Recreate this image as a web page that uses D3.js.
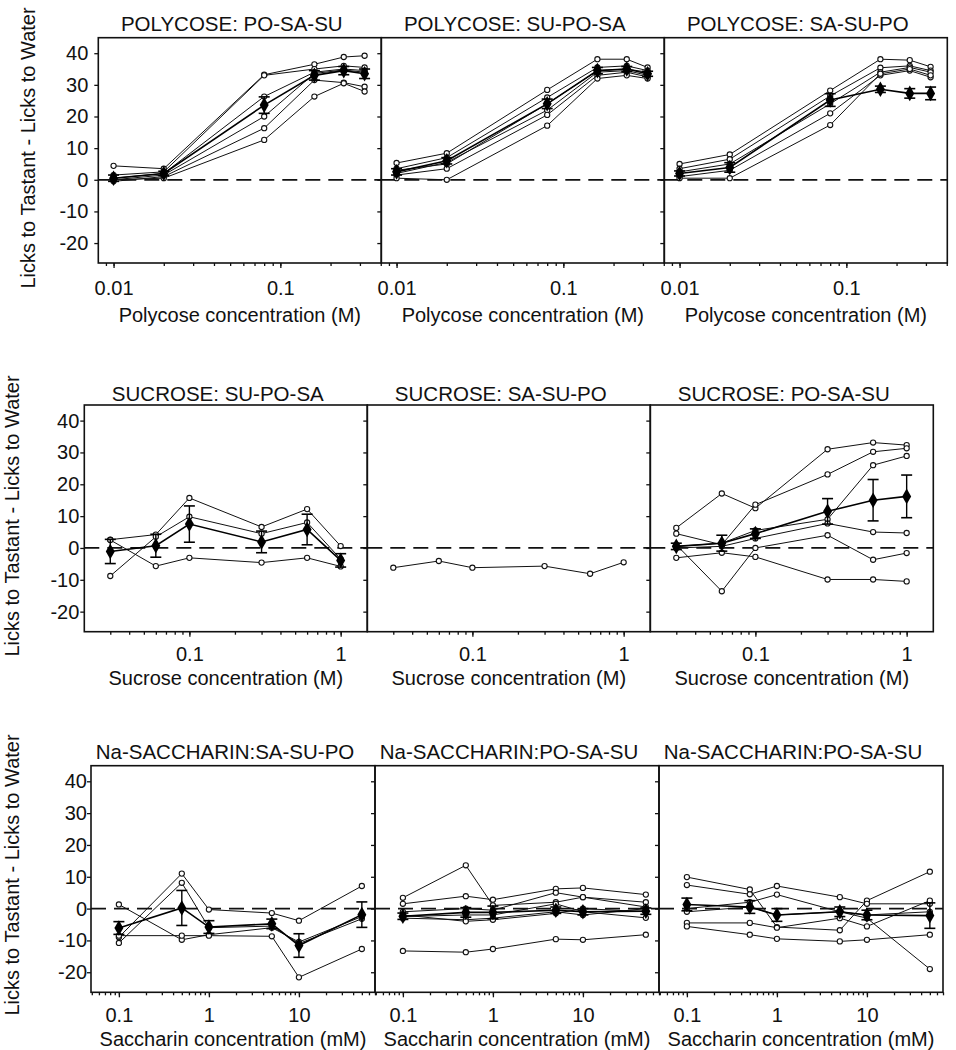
<!DOCTYPE html>
<html><head><meta charset="utf-8">
<script src="https://cdn.jsdelivr.net/npm/d3@7"></script>
<style>body{margin:0;background:#fff} text{font-family:"Liberation Sans",Arial,sans-serif;fill:#111}</style>
</head><body><svg id="c" width="956" height="1050"></svg>
<script>
// ---------- DATA ----------
const polycoseConc = [0.01, 0.02, 0.08, 0.16, 0.24, 0.32];
const sucroseConc = [0.03, 0.06, 0.1, 0.3, 0.6, 1];
const saccharinConc = [0.1, 0.5, 1, 5, 10, 50];

const yTicks = [-20, -10, 0, 10, 20, 30, 40];
const polycoseTickLabels = [0.01, 0.1];
const sucroseTickLabels = [0.1, 1];
const saccharinTickLabels = [0.1, 1, 10];

const panelTitles = [
  "POLYCOSE: PO-SA-SU", "POLYCOSE: SU-PO-SA", "POLYCOSE: SA-SU-PO",
  "SUCROSE: SU-PO-SA", "SUCROSE: SA-SU-PO", "SUCROSE: PO-SA-SU",
  "Na-SACCHARIN:SA-SU-PO", "Na-SACCHARIN:PO-SA-SU", "Na-SACCHARIN:PO-SA-SU"
];
const xTitles = ["Polycose concentration (M)", "Sucrose concentration (M)", "Saccharin concentration (mM)"];
const yTitle = "Licks to Tastant - Licks to Water";

// Panel 1: POLYCOSE PO-SA-SU
const p1Rats = [
  [4.4, 3.5, 33.2, 36.5, 38.8, 39.2],
  [1.5, 2.5, 33.0, 35.0, 36.0, 35.5],
  [0.5, 2.0, 26.3, 34.0, 35.0, 34.5],
  [0.0, 1.5, 20.0, 33.6, 34.7, 34.0],
  [-0.5, 1.0, 16.3, 31.5, 30.7, 29.4],
  [0.0, 0.5, 12.6, 26.3, 30.5, 27.9]
];
const p1Mean = [0.5, 2.0, 23.6, 33.0, 34.5, 33.5];
const p1Sem = [1.0, 0.7, 2.6, 1.5, 1.3, 1.5];

// Panel 2: POLYCOSE SU-PO-SA
const p2Rats = [
  [5.3, 8.4, 28.4, 38.1, 38.1, 35.5],
  [3.5, 7.0, 26.0, 35.5, 36.0, 34.5],
  [3.0, 5.0, 24.0, 34.5, 35.0, 34.0],
  [2.0, 5.5, 22.0, 34.0, 34.5, 33.0],
  [1.5, 3.5, 20.5, 33.0, 34.0, 32.5],
  [0.5, 0.0, 17.1, 32.0, 33.0, 32.0]
];
const p2Mean = [2.5, 6.0, 24.0, 34.5, 35.0, 33.5];
const p2Sem = [1.0, 1.0, 1.5, 1.0, 0.8, 0.8];

// Panel 3: POLYCOSE SA-SU-PO
const p3Rats = [
  [5.0, 8.0, 28.2, 38.1, 37.8, 35.7],
  [3.5, 6.5, 26.5, 35.4, 36.0, 34.5],
  [2.5, 5.0, 24.0, 34.0, 35.5, 34.0],
  [1.0, 3.0, 21.0, 33.0, 34.5, 32.4],
  [0.5, 0.5, 17.3, 33.5, 35.0, 33.0]
];
const p3Mean = [2.0, 3.9, 25.2, 28.6, 27.3, 27.3];
const p3Sem = [0.8, 1.5, 2.0, 1.0, 1.5, 2.0];

// Panel 4: SUCROSE SU-PO-SA
const p4Rats = [
  [2.6, 4.2, 15.7, 6.6, 12.2, 0.6],
  [-8.8, 3.5, 9.8, 4.5, 8.0, -3.5],
  [2.5, -5.7, -3.1, -4.6, -3.1, -5.8]
];
const p4Mean = [-1.1, 0.7, 7.5, 1.9, 5.8, -3.9];
const p4Sem = [3.8, 3.6, 5.7, 3.4, 4.8, 2.1];

// Panel 5: SUCROSE SA-SU-PO
const p5Rats = [
  [-6.2, -4.1, -6.2, -5.7, -8.1, -4.5]
];
const p5Mean = [];
const p5Sem = [];

// Panel 6: SUCROSE PO-SA-SU
const p6Rats = [
  [6.3, 17.1, 12.5, 31.0, 33.1, 32.3],
  [4.5, 1.0, 13.6, 23.1, 30.2, 31.3],
  [0.5, 1.5, 5.5, 9.0, 26.0, 28.9],
  [0.0, 0.5, 3.0, 7.7, 5.0, 4.7],
  [-3.1, -1.5, -2.8, -9.9, -9.9, -10.5],
  [1.0, -13.6, 0.0, 4.0, -3.7, -1.6]
];
const p6Mean = [0.5, 1.5, 4.5, 11.5, 15.0, 16.2];
const p6Sem = [1.0, 2.5, 1.5, 4.0, 6.5, 6.7];

// Panel 7: Na-SACCHARIN SA-SU-PO
const p7Rats = [
  [-9.0, 11.0, -0.3, -1.4, -3.8, 7.1],
  [-10.8, 8.1, -6.0, -5.5, -11.0, -3.2],
  [1.3, -9.8, -8.2, -6.0, -10.5, -2.5],
  [-8.5, -8.5, -8.5, -8.7, -21.6, -12.7]
];
const p7Mean = [-6.1, 0.2, -5.8, -4.8, -11.6, -1.9];
const p7Sem = [2.0, 5.5, 2.0, 1.5, 3.7, 4.0];

// Panel 8: Na-SACCHARIN PO-SA-SU
const p8Rats = [
  [3.4, 13.6, 1.0, 2.0, 3.6, 2.0],
  [1.5, 3.9, 2.8, 6.2, 6.5, 4.4],
  [-1.0, 0.0, -0.5, 5.0, 3.6, 0.5],
  [-2.5, -2.0, -2.0, 1.5, -1.0, -2.9],
  [-3.0, -3.5, -3.0, -1.0, -2.0, 0.0],
  [-2.0, -4.0, -3.5, -1.5, 0.0, -1.0],
  [-13.3, -13.7, -12.7, -9.6, -9.8, -8.2]
];
const p8Mean = [-2.4, -1.2, -1.2, -0.5, -1.0, -0.8];
const p8Sem = [1.0, 1.5, 2.0, 1.0, 1.0, 1.0];

// Panel 9: Na-SACCHARIN PO-SA-SU
const p9Rats = [
  [9.9, 6.0, -5.8, -6.8, 2.5, 11.6],
  [7.4, 4.5, 7.1, 3.6, 1.5, 1.5],
  [0.0, 2.0, 4.4, -1.0, -3.0, -19.0],
  [-1.0, 0.5, -2.0, -1.0, -2.0, -1.0],
  [-4.5, -4.5, -6.0, -3.0, -5.6, 2.5],
  [-5.6, -8.2, -9.5, -10.3, -9.8, -8.2]
];
const p9Mean = [1.3, 0.5, -2.0, -1.0, -2.0, -2.2];
const p9Sem = [2.0, 2.0, 2.0, 1.5, 1.5, 4.0];

// ---------- BUILD ----------
const rowConc = [polycoseConc, sucroseConc, saccharinConc];
const rowTickLabels = [polycoseTickLabels, sucroseTickLabels, saccharinTickLabels];
const panels = [
  [p1Rats, p1Mean, p1Sem], [p2Rats, p2Mean, p2Sem], [p3Rats, p3Mean, p3Sem],
  [p4Rats, p4Mean, p4Sem], [p5Rats, p5Mean, p5Sem], [p6Rats, p6Mean, p6Sem],
  [p7Rats, p7Mean, p7Sem], [p8Rats, p8Mean, p8Sem], [p9Rats, p9Mean, p9Sem]
].map((d, i) => ({rats: d[0], mean: d[1], sem: d[2], title: panelTitles[i]}));

const yDomain = [-26.3, 44.9];
const layout = [
  {left: 98.3, w: 283, top: 37.7, bottom: 263, dom: [0.0081, 0.403], titleY: 30.5, xpad: 13, xTitleY: 322, yPad: 6, yTitleX: 35, yTitleY: 148},
  {left: 84.3, w: 283, top: 405, bottom: 631.7, dom: [0.0202, 1.5], titleY: 400.5, xpad: 10.5, xTitleY: 685, yPad: 1, yTitleX: 19, yTitleY: 516},
  {left: 91, w: 284, top: 765.7, bottom: 992.3, dom: [0.049, 70], titleY: 759, xpad: 11, xTitleY: 1046, yPad: 0, yTitleX: 19, yTitleY: 875}
];

const svg = d3.select("#c");
svg.append("rect").attr("width", 956).attr("height", 1050).attr("fill", "#fff");

panels.forEach((p, i) => {
  const row = Math.floor(i / 3), col = i % 3;
  const L = layout[row];
  const x0 = L.left + col * L.w;
  const conc = rowConc[row];
  const x = d3.scaleLog().domain(L.dom).range([x0, x0 + L.w]);
  const y = d3.scaleLinear().domain(yDomain).range([L.bottom, L.top]);
  const g = svg.append("g");

  // zero dashed line
  g.append("line").attr("x1", x0).attr("x2", x0 + L.w).attr("y1", y(0)).attr("y2", y(0))
    .attr("stroke", "#111").attr("stroke-width", 1.8).attr("stroke-dasharray", "15,8");

  // x minor ticks
  const minorAx = g.append("g").attr("transform", `translate(0,${L.bottom})`)
    .call(d3.axisBottom(x).tickValues(x.ticks()).tickSize(3).tickFormat(""));
  minorAx.select(".domain").remove();
  // x major ticks + labels
  const majAx = g.append("g").attr("transform", `translate(0,${L.bottom})`)
    .call(d3.axisBottom(x).tickValues(rowTickLabels[row]).tickSize(5).tickPadding(L.xpad).tickFormat(d => String(d)));
  majAx.select(".domain").remove();
  majAx.selectAll("text").attr("font-size", 20).attr("font-family", "Liberation Sans, Arial, sans-serif").attr("fill", "#111");
  g.selectAll(".tick line").attr("stroke", "#111").attr("stroke-width", 1.3);

  // y axis
  const yAx = g.append("g").attr("transform", `translate(${x0},0)`)
    .call(d3.axisLeft(y).tickValues(yTicks).tickSize(4).tickPadding(L.yPad)
      .tickFormat(col === 0 ? (d => String(d)) : ""));
  yAx.select(".domain").remove();
  yAx.selectAll("text").attr("font-size", 20).attr("font-family", "Liberation Sans, Arial, sans-serif").attr("fill", "#111");
  yAx.selectAll(".tick line").attr("stroke", "#111").attr("stroke-width", 1.3);

  // frame
  g.append("rect").attr("x", x0).attr("y", L.top).attr("width", L.w).attr("height", L.bottom - L.top)
    .attr("fill", "none").attr("stroke", "#111").attr("stroke-width", 1.6);

  const line = d3.line().x((d, k) => x(conc[k])).y(d => y(d));

  // individual animals
  p.rats.forEach(r => {
    g.append("path").datum(r).attr("d", line).attr("fill", "none").attr("stroke", "#111").attr("stroke-width", 1);
    g.selectAll(null).data(r).enter().append("circle")
      .attr("cx", (d, k) => x(conc[k])).attr("cy", d => y(d)).attr("r", 2.6)
      .attr("fill", "#fff").attr("stroke", "#111").attr("stroke-width", 1.1);
  });

  // group mean with error bars
  if (p.mean.length) {
    g.append("path").datum(p.mean).attr("d", line).attr("fill", "none").attr("stroke", "#000").attr("stroke-width", 1.6);
    p.mean.forEach((m, k) => {
      const cx = x(conc[k]);
      const e = p.sem[k];
      g.append("line").attr("x1", cx).attr("x2", cx).attr("y1", y(m - e)).attr("y2", y(m + e))
        .attr("stroke", "#000").attr("stroke-width", 1.4);
      [m - e, m + e].forEach(v => {
        g.append("line").attr("x1", cx - 5.5).attr("x2", cx + 5.5).attr("y1", y(v)).attr("y2", y(v))
          .attr("stroke", "#000").attr("stroke-width", 1.6);
      });
    });
    g.selectAll(null).data(p.mean).enter().append("path")
      .attr("d", d3.symbol().type(d3.symbolDiamond).size(70))
      .attr("transform", (d, k) => `translate(${x(conc[k])},${y(d)})`)
      .attr("fill", "#000");
  }

  // title
  g.append("text").attr("x", x0 + L.w / 2 - 8).attr("y", L.titleY).attr("text-anchor", "middle")
    .attr("font-size", 20.5).text(p.title);
  // x title
  g.append("text").attr("x", x0 + L.w / 2).attr("y", L.xTitleY).attr("text-anchor", "middle")
    .attr("font-size", 20).text(xTitles[row]);
  // y title
  if (col === 0) {
    g.append("text").attr("transform", `translate(${L.yTitleX},${L.yTitleY}) rotate(-90)`)
      .attr("text-anchor", "middle").attr("font-size", 20).text(yTitle);
  }
});
</script>
</body></html>
